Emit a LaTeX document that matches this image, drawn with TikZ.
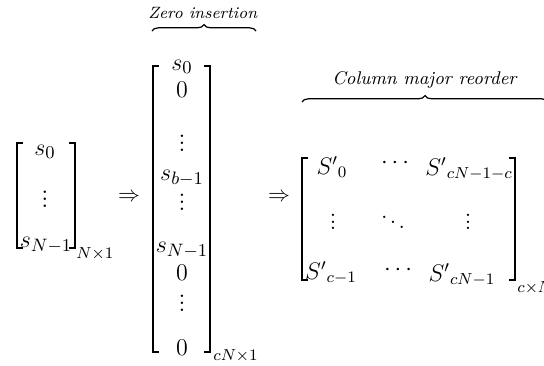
\documentclass[tikz,border=0pt]{standalone}
\usetikzlibrary{decorations.pathreplacing}
\newcommand{\tvdots}{\vbox{\baselineskip=0.27em\lineskiplimit=-1em\hbox{.}\hbox{.}\hbox{.}}}
\newcommand{\tddots}{\hbox{\raisebox{0.42em}{.}\kern0.1em\raisebox{0.21em}{.}\kern0.1em.}}
\begin{document}
\begin{tikzpicture}[x=0.5pt,y=-0.5pt,
  brk/.style={line width=1.05pt},
  ent/.style={inner sep=0pt,font=\fontsize{12.6}{15}\selectfont},
  entl/.style={inner sep=0pt,font=\fontsize{13}{16}\selectfont},
  entr/.style={inner sep=0pt,font=\fontsize{11.8}{14}\selectfont},
  arr/.style={inner sep=0pt,font=\fontsize{10.5}{12}\selectfont},
  dimlab/.style={inner sep=0pt,anchor=west,font=\fontsize{8.2}{10}\selectfont},
  brc/.style={decorate,decoration={brace,amplitude=3.2pt},line width=0.6pt},
  lab/.style={inner sep=0pt}]
\useasboundingbox (0,0) rectangle (544,365);
% ---- left matrix
\draw[brk] (23,143) -- (17,143) -- (17,248) -- (23,248);
\draw[brk] (69,143) -- (75,143) -- (75,248) -- (69,248);
\node[entl] (l0) at (45,152) {$s_0$};
\node[entl] (l1) at (45,199) {\tvdots};
\node[entl] (l2) at (46,245) {$s_{N-1}$};
\node[dimlab] (ld) at (76,254) {$N{\times}1$};
% ---- arrows
\node[arr] (a1) at (129,197) {$\Rightarrow$};
\node[arr] (a2) at (279,197) {$\Rightarrow$};
% ---- middle matrix
\draw[brk] (159,66) -- (153,66) -- (153,352) -- (159,352);
\draw[brk] (204,66) -- (210,66) -- (210,352) -- (204,352);
\node[ent] (m0) at (182,67) {$s_0$};
\node[ent] (m1) at (182,90) {$0$};
\node[ent] (m2) at (182,143) {\tvdots};
\node[ent] (m3) at (182,178) {$s_{b-1}$};
\node[ent] (m4) at (182,202) {\tvdots};
\node[ent] (m5) at (182,250) {$s_{N-1}$};
\node[ent] (m6) at (182,273) {$0$};
\node[ent] (m7) at (182,303) {\tvdots};
\node[ent] (m8) at (182,348) {$0$};
\node[dimlab] (md) at (213,356) {$cN{\times}1$};
\coordinate (mb1) at (152,31);
\coordinate (mb2) at (256,31);
\draw[brc] (mb1) -- (mb2);
\node[lab,font=\fontsize{8.2}{10}\selectfont] (mt) at (203,13) {\textit{Zero insertion}};
% ---- right matrix
\draw[brk] (308,158) -- (302,158) -- (302,280) -- (308,280);
\draw[brk] (509,158) -- (515,158) -- (515,280) -- (509,280);
\node[entr] (r00) at (332,167) {${S'}_{0}$};
\node[entr] (r01) at (395,163) {$\cdots$};
\node[entr] (r02) at (469,169) {${S'}_{cN-1-c}$};
\node[entr] (r10) at (333,222) {\tvdots};
\node[entr] (r11) at (393,222) {\tddots};
\node[entr] (r12) at (468,222) {\tvdots};
\node[entr] (r20) at (331,273) {${S'}_{c-1}$};
\node[entr] (r21) at (398,270) {$\cdots$};
\node[entr] (r22) at (462,275) {${S'}_{cN-1}$};
\node[dimlab] (rd) at (517,288) {$c{\times}N$};
\coordinate (rb1) at (302,102);
\coordinate (rb2) at (548,102);
\draw[brc] (rb1) -- (rb2);
\node[lab,font=\fontsize{9.2}{11}\selectfont] (rt) at (425,80) {\textit{Column major reorder}};
\end{tikzpicture}
\end{document}
